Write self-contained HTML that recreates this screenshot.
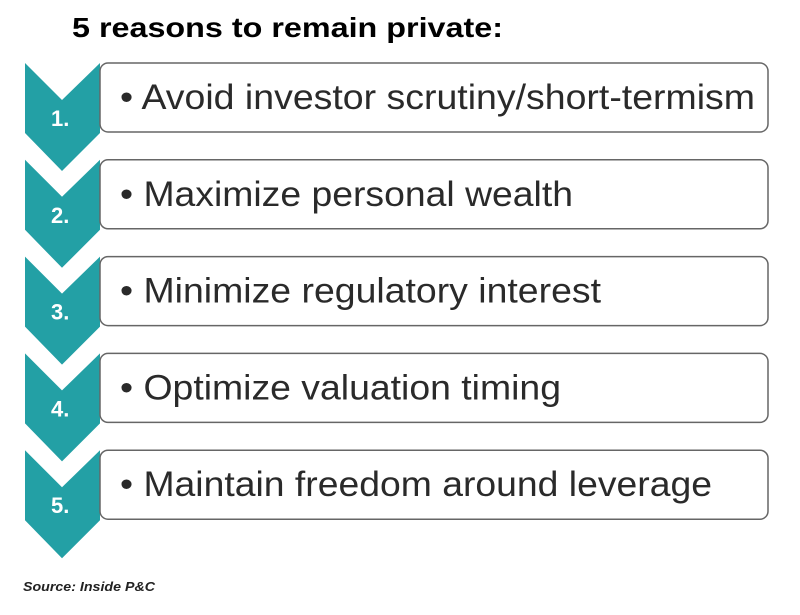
<!DOCTYPE html>
<html><head><meta charset="utf-8"><style>
body{margin:0;background:#fff;width:800px;height:610px;overflow:hidden;font-family:"Liberation Sans",sans-serif}
</style></head><body>
<svg width="800" height="610">
<text x="72" y="37" font-size="28" font-weight="bold" fill="#000" textLength="431" lengthAdjust="spacingAndGlyphs">5 reasons to remain private:</text>
<g id="items"></g>
<text x="23" y="591" font-size="13" font-weight="bold" font-style="italic" fill="#222" textLength="132" lengthAdjust="spacingAndGlyphs">Source: Inside P&amp;C</text>
</svg>
<script>
const nums=["1.","2.","3.","4.","5."];
const labels=["• Avoid investor scrutiny/short-termism","• Maximize personal wealth","• Minimize regulatory interest","• Optimize valuation timing","• Maintain freedom around leverage"];
const ends=[755,573,601,561,712];
const g=document.getElementById('items');
const ns="http://www.w3.org/2000/svg";
labels.forEach((t,i)=>{
  const y=63+i*96.8;
  const c=document.createElementNS(ns,'polygon');
  c.setAttribute('points',`25,${y} 62,${y+37} 100,${y} 100,${y+70} 62,${y+108} 25,${y+70}`);
  c.setAttribute('fill','#23a0a5');
  
  
  g.appendChild(c);
  const r=document.createElementNS(ns,'rect');
  r.setAttribute('x',100);r.setAttribute('y',y);r.setAttribute('width',668);r.setAttribute('height',69);
  r.setAttribute('rx',8);r.setAttribute('fill','#fff');r.setAttribute('stroke','#666');r.setAttribute('stroke-width','1.5');
  
  
  g.appendChild(r);
  const n=document.createElementNS(ns,'text');
  n.setAttribute('x',51);n.setAttribute('y',y+63);n.setAttribute('font-size','22');n.setAttribute('font-weight','bold');n.setAttribute('fill','#fff');
  n.textContent=nums[i];
  
  
  g.appendChild(n);
  const tx=document.createElementNS(ns,'text');
  tx.setAttribute('x',120);tx.setAttribute('y',y+46);tx.setAttribute('font-size','35');tx.setAttribute('fill','#2a2a2a');
  tx.setAttribute('textLength',ends[i]-120);tx.setAttribute('lengthAdjust','spacingAndGlyphs');
  tx.textContent=t;
  
  
  g.appendChild(tx);
});
</script>
</body></html>
